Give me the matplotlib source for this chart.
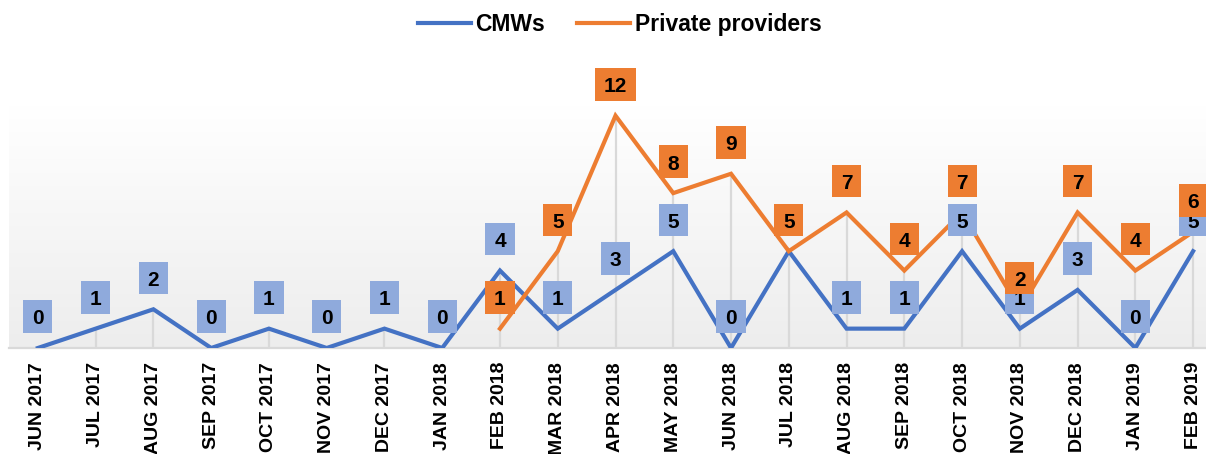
import numpy as np
import matplotlib
matplotlib.use("Agg")
import matplotlib.pyplot as plt
from matplotlib.path import Path
from matplotlib.colors import LinearSegmentedColormap
from matplotlib.lines import Line2D

plt.rcParams['font.family'] = ['Liberation Sans', 'DejaVu Sans']

months = ["JUN 2017", "JUL 2017", "AUG 2017", "SEP 2017", "OCT 2017", "NOV 2017",
          "DEC 2017", "JAN 2018", "FEB 2018", "MAR 2018", "APR 2018", "MAY 2018",
          "JUN 2018", "JUL 2018", "AUG 2018", "SEP 2018", "OCT 2018", "NOV 2018",
          "DEC 2018", "JAN 2019", "FEB 2019"]
cmws = [0, 1, 2, 0, 1, 0, 1, 0, 4, 1, 3, 5, 0, 5, 1, 1, 5, 1, 3, 0, 5]
private = [np.nan] * 8 + [1, 5, 12, 8, 9, 5, 7, 4, 7, 2, 7, 4, 6]

BLUE = "#4472C4"
BLUE_LBL = "#8FAADC"
ORANGE = "#ED7D31"
GRID = "#D9D9D9"

W, H = 1206, 454
fig = plt.figure(figsize=(W / 100, H / 100), dpi=100)
ax = fig.add_axes([9 / W, 106 / H, (1222 - 9) / W, 242 / H])

x = np.arange(len(months))
ax.set_xlim(-0.5, len(months) - 0.5)
ax.set_ylim(0, 12.5)

# gradient background (white at top, light grey at bottom)
cmap = LinearSegmentedColormap.from_list("g", ["#FFFFFF", "#EDEDED"])
grad = np.linspace(0, 1, 256)[:, None]
ax.imshow(grad, extent=[0, 1, 0, 1], origin='upper', transform=ax.transAxes,
          aspect='auto', cmap=cmap, zorder=0)

# drop lines
tops = [max(c, p) if not np.isnan(p) else c for c, p in zip(cmws, private)]
ax.vlines(x, 0, tops, color=GRID, lw=1.6, zorder=1)

ax.plot(x, cmws, color=BLUE, lw=3.0, zorder=3, solid_joinstyle='miter')
ax.plot(x, private, color=ORANGE, lw=3.0, zorder=4, solid_joinstyle='miter')


def label_box(x0, y0, width, height, mutation_size):
    p = 0.42 * mutation_size
    d = 0.21 * mutation_size
    bx0 = x0 - p
    bx1 = x0 + width + p
    by0 = y0 + d - p
    by1 = y0 + d + 0.72 * mutation_size + p
    return Path([(bx0, by0), (bx1, by0), (bx1, by1), (bx0, by1), (bx0, by0)],
                closed=True)


def add_labels(vals, fc, z):
    for i, v in enumerate(vals):
        if np.isnan(v):
            continue
        ax.annotate(f"{int(v)}", xy=(i, v), xytext=(0, 23.5),
                    textcoords='offset pixels', ha='center', va='baseline',
                    fontsize=15, fontweight='bold', color='black',
                    bbox=dict(boxstyle=label_box, fc=fc, ec='none'),
                    zorder=z, annotation_clip=False)


add_labels(cmws, BLUE_LBL, 6)
add_labels(private, ORANGE, 7)

for s in ['left', 'right', 'top']:
    ax.spines[s].set_visible(False)
ax.spines['bottom'].set_color(GRID)
ax.spines['bottom'].set_linewidth(1.6)
ax.spines['bottom'].set_zorder(2)
ax.set_yticks([])
ax.set_xticks(x)
ax.set_xticklabels(months, rotation=90, fontsize=14, fontweight='bold')
ax.tick_params(axis='x', length=0, pad=10)

handles = [Line2D([], [], color=BLUE, lw=3.0), Line2D([], [], color=ORANGE, lw=3.0)]
fig.legend(handles, ["CMWs", "Private providers"], loc='center',
           bbox_to_anchor=(0.514, 0.945), ncol=2, frameon=False,
           prop=dict(weight='bold', size=16.5), handlelength=2.3,
           handletextpad=0.2, columnspacing=1.4)

fig.savefig("out.png", dpi=100)
